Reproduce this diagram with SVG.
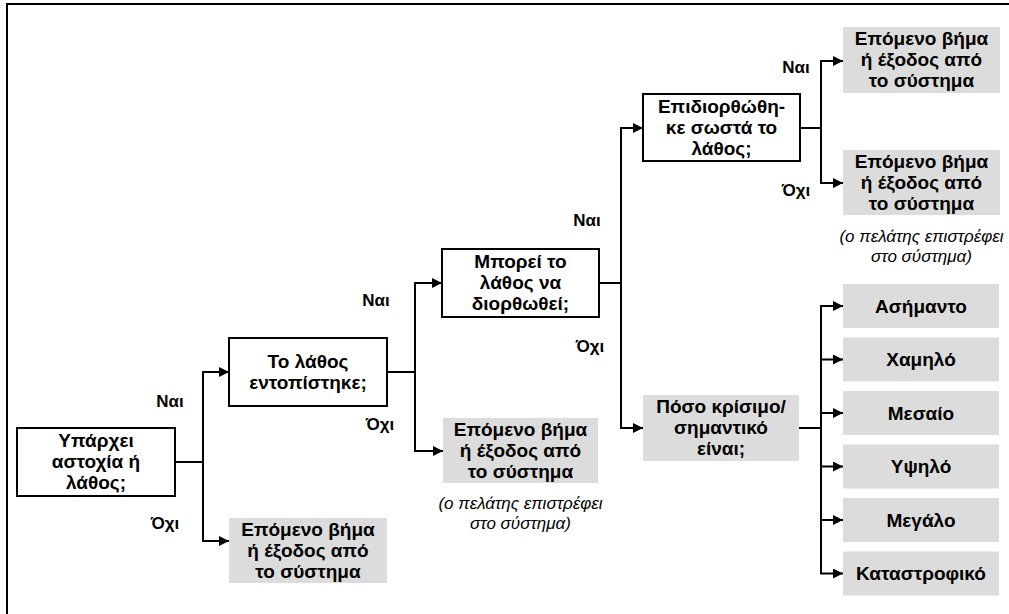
<svg xmlns="http://www.w3.org/2000/svg" width="1009" height="614" viewBox="0 0 1009 614">
  <style>
    .q { fill: #ffffff; stroke: #000000; stroke-width: 2; }
    .o { fill: #dcdcdc; stroke: none; }
    .t { font-family: "Liberation Sans", Arial, sans-serif; font-size: 19px; font-weight: bold; fill: #000000; text-anchor: middle; }
    .l { font-family: "Liberation Sans", Arial, sans-serif; font-size: 17px; font-weight: bold; fill: #000000; text-anchor: middle; }
    .n { font-family: "Liberation Sans", Arial, sans-serif; font-size: 17px; font-style: italic; fill: #000000; text-anchor: middle; }
    .c { fill: none; stroke: #000000; stroke-width: 2; }
    .a { marker-end: url(#arrow); }
  </style>
  <defs>
    <marker id="arrow" viewBox="0 0 10 10" refX="10" refY="5" markerWidth="11" markerHeight="10" markerUnits="userSpaceOnUse" orient="auto">
      <path d="M0,0 L10,5 L0,10 z" fill="#000000"/>
    </marker>
  </defs>

  <rect x="0" y="0" width="1009" height="614" fill="#ffffff"/>
  <!-- page frame -->
  <rect x="7" y="4" width="1012" height="620" fill="none" stroke="#000000" stroke-width="2"/>

  <!-- connectors -->
  <g id="connectors">
    <path class="c" d="M175,462 H203"/>
    <path class="c a" d="M203,462 V372 H229"/>
    <path class="c a" d="M203,462 V541 H229"/>

    <path class="c" d="M387,372 H415"/>
    <path class="c a" d="M415,372 V283 H442"/>
    <path class="c a" d="M415,372 V451 H443"/>

    <path class="c" d="M599,283 H621"/>
    <path class="c a" d="M621,283 V128 H643"/>
    <path class="c a" d="M621,283 V428 H643"/>

    <path class="c" d="M800,128 H821"/>
    <path class="c a" d="M821,128 V61 H843"/>
    <path class="c a" d="M821,128 V183 H843"/>

    <path class="c" d="M799,428 H821"/>
    <path class="c a" d="M821,428 V306 H843"/>
    <path class="c a" d="M821,428 V359.5 H843"/>
    <path class="c a" d="M821,428 V413 H843"/>
    <path class="c a" d="M821,428 V466.5 H843"/>
    <path class="c a" d="M821,428 V520 H843"/>
    <path class="c a" d="M821,428 V573.5 H843"/>
  </g>

  <!-- branch labels -->
  <g id="labels">
    <text class="l" x="170" y="407">Ναι</text>
    <text class="l" x="165" y="529">Όχι</text>
    <text class="l" x="376" y="306">Ναι</text>
    <text class="l" x="380" y="430">Όχι</text>
    <text class="l" x="587" y="226">Ναι</text>
    <text class="l" x="590" y="352">Όχι</text>
    <text class="l" x="796" y="73">Ναι</text>
    <text class="l" x="796" y="196">Όχι</text>
  </g>

  <g id="q-failure">
    <rect class="q" x="17" y="428" width="158" height="68"/>
    <text class="t" x="96" y="447">Υπάρχει</text>
    <text class="t" x="96" y="468">αστοχία ή</text>
    <text class="t" x="96" y="489">λάθος;</text>
  </g>

  <g id="exit-1">
    <rect class="o" x="229" y="518" width="158" height="65"/>
    <text class="t" x="308" y="535.5">Επόμενο βήμα</text>
    <text class="t" x="308" y="556.5">ή έξοδος από</text>
    <text class="t" x="308" y="577.5">το σύστημα</text>
  </g>

  <g id="q-located">
    <rect class="q" x="229" y="338" width="158" height="68"/>
    <text class="t" x="308" y="367.5">Το λάθος</text>
    <text class="t" x="308" y="388.5">εντοπίστηκε;</text>
  </g>

  <g id="exit-2">
    <rect class="o" x="443" y="418" width="155" height="65"/>
    <text class="t" x="520.5" y="435.5">Επόμενο βήμα</text>
    <text class="t" x="520.5" y="456.5">ή έξοδος από</text>
    <text class="t" x="520.5" y="477.5">το σύστημα</text>
    <text class="n" x="520.5" y="509">(ο πελάτης επιστρέφει</text>
    <text class="n" x="520.5" y="529">στο σύστημα)</text>
  </g>

  <g id="q-fixable">
    <rect class="q" x="442" y="249" width="157" height="68"/>
    <text class="t" x="520.5" y="268">Μπορεί το</text>
    <text class="t" x="520.5" y="289">λάθος να</text>
    <text class="t" x="520.5" y="310">διορθωθεί;</text>
  </g>

  <g id="q-fixed">
    <rect class="q" x="643" y="94" width="157" height="67"/>
    <text class="t" x="721.5" y="112.5">Επιδιορθώθη-</text>
    <text class="t" x="721.5" y="133.5">κε σωστά το</text>
    <text class="t" x="721.5" y="154.5">λάθος;</text>
  </g>

  <g id="exit-3">
    <rect class="o" x="843" y="27" width="157" height="66"/>
    <text class="t" x="921.5" y="45">Επόμενο βήμα</text>
    <text class="t" x="921.5" y="66">ή έξοδος από</text>
    <text class="t" x="921.5" y="87">το σύστημα</text>
  </g>

  <g id="exit-4">
    <rect class="o" x="843" y="150" width="157" height="65"/>
    <text class="t" x="921.5" y="167.5">Επόμενο βήμα</text>
    <text class="t" x="921.5" y="188.5">ή έξοδος από</text>
    <text class="t" x="921.5" y="209.5">το σύστημα</text>
    <text class="n" x="921.5" y="242">(ο πελάτης επιστρέφει</text>
    <text class="n" x="921.5" y="262">στο σύστημα)</text>
  </g>

  <g id="q-severity">
    <rect class="o" x="643" y="395" width="156" height="66"/>
    <text class="t" x="721" y="413">Πόσο κρίσιμο/</text>
    <text class="t" x="721" y="434">σημαντικό</text>
    <text class="t" x="721" y="455">είναι;</text>
  </g>

  <g id="sev-negligible">
    <rect class="o" x="843" y="284" width="156" height="44"/>
    <text class="t" x="921" y="312.5">Ασήμαντο</text>
  </g>
  <g id="sev-low">
    <rect class="o" x="843" y="337.5" width="156" height="44"/>
    <text class="t" x="921" y="366">Χαμηλό</text>
  </g>
  <g id="sev-medium">
    <rect class="o" x="843" y="391" width="156" height="44"/>
    <text class="t" x="921" y="419.5">Μεσαίο</text>
  </g>
  <g id="sev-high">
    <rect class="o" x="843" y="444.5" width="156" height="44"/>
    <text class="t" x="921" y="473">Υψηλό</text>
  </g>
  <g id="sev-major">
    <rect class="o" x="843" y="498" width="156" height="44"/>
    <text class="t" x="921" y="526.5">Μεγάλο</text>
  </g>
  <g id="sev-catastrophic">
    <rect class="o" x="843" y="551.5" width="156" height="44"/>
    <text class="t" x="921" y="580">Καταστροφικό</text>
  </g>
</svg>
